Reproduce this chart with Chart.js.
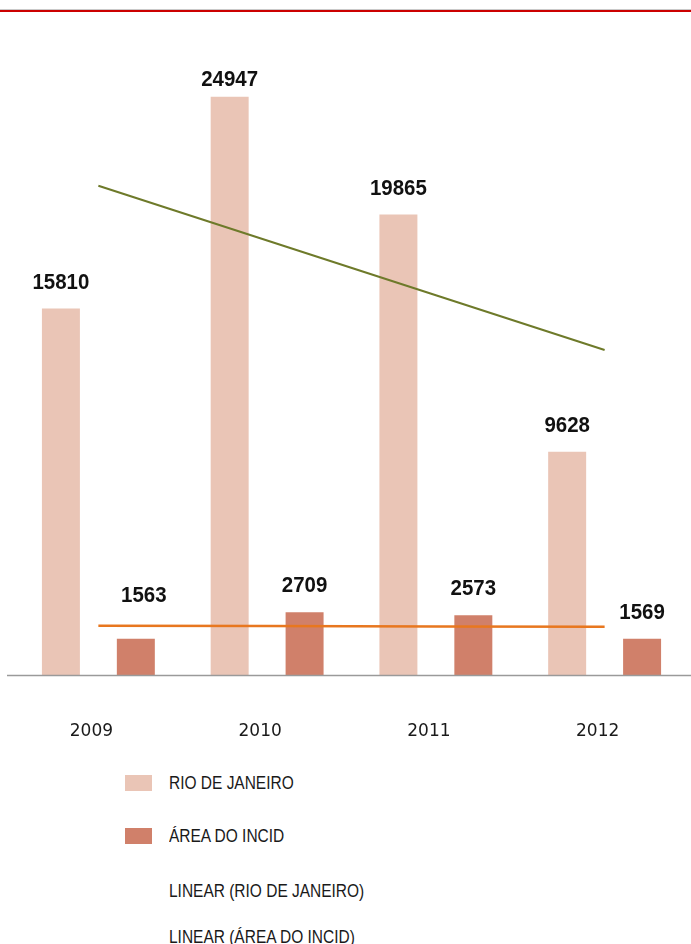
<!DOCTYPE html>
<html>
<head>
<meta charset="utf-8">
<script src="https://cdn.jsdelivr.net/npm/chart.js@4"></script>
<style>
  body { margin: 0; background: #fff; width: 691px; height: 944px; overflow: hidden; position: relative; }
  #rule { position: absolute; left: 0; top: 9px; width: 691px; height: 1px; background: #c9c9c9; }
  #rule2 { position: absolute; left: 0; top: 10px; width: 691px; height: 2px; background: #cc0000; }
  #wrap { position: absolute; left: 0; top: 0; width: 691px; height: 760px; }
  .leg { position: absolute; left: 125px; font-family: "Liberation Sans", Arial, sans-serif; font-size: 18px; color: #1a1a1a; }
  .leg i { position: absolute; left: 0; width: 27px; height: 16px; }
  .leg span { position: absolute; left: 44px; white-space: nowrap; line-height: 20px; transform: scaleX(0.86); transform-origin: 0 50%; }
</style>
</head>
<body>
<div id="rule"></div><div id="rule2"></div>
<div id="wrap"><canvas id="chart"></canvas></div>
<div id="legend"></div>
<script>
const years = ["2009", "2010", "2011", "2012"];
const rioJaneiro = [15810, 24947, 19865, 9628];
const areaIncid = [1563, 2709, 2573, 1569];
const seriesNames = ["RIO DE JANEIRO", "ÁREA DO INCID"];

const rioColor = "#eac5b6";
const areaColor = "#d0806a";
const rioTrendColor = "#6e7a2a";
const areaTrendColor = "#e8771f";

/* linear trend (least squares) like the spreadsheet's "Linear" trendline */
function linearTrend(values) {
  const n = values.length;
  let sx = 0, sy = 0, sxy = 0, sxx = 0;
  values.forEach((v, i) => {
    const x = i + 1;
    sx += x; sy += v; sxy += x * v; sxx += x * x;
  });
  const slope = (n * sxy - sx * sy) / (n * sxx - sx * sx);
  const icpt = (sy - slope * sx) / n;
  return values.map((_, i) => icpt + slope * (i + 1));
}

// value labels: drawn above each bar
const valueLabels = {
  id: "valueLabels",
  afterDatasetsDraw(chart) {
    const ctx = chart.ctx;
    ctx.save();
    ctx.font = "bold 22px 'Liberation Sans', Arial, sans-serif";
    ctx.fillStyle = "#111";
    ctx.textAlign = "center";
    ctx.textBaseline = "middle";
    chart.data.datasets.forEach((ds, di) => {
      if (ds.type === "line") return;
      chart.getDatasetMeta(di).data.forEach((bar, i) => {
        let dx = 0, dy = -26;
        // the 2009 label of the small series sits higher, clear of the trend line
        if (di === 1 && i === 0) { dx = 8; dy = -43; }
        const y = Math.max(bar.y + dy, 79.5); // kept inside the plot's top
        ctx.save();
        ctx.translate(bar.x + dx, y);
        ctx.scale(0.93, 1);
        ctx.fillText(ds.data[i], 0, 0);
        ctx.restore();
      });
    });
    ctx.restore();
  }
};

const baseline = {
  id: "baseline",
  afterDatasetsDraw(chart) {
    const ctx = chart.ctx;
    const y = chart.chartArea.bottom + 0.5;
    ctx.save();
    ctx.strokeStyle = "#9a9a9a";
    ctx.lineWidth = 1.5;
    ctx.beginPath();
    ctx.moveTo(7, y);
    ctx.lineTo(chart.width, y);
    ctx.stroke();
    ctx.restore();
  }
};

new Chart(document.getElementById("chart"), {
  type: "bar",
  data: {
    labels: years,
    datasets: [
      {
        label: seriesNames[0],
        data: rioJaneiro,
        backgroundColor: rioColor,
        categoryPercentage: 0.888,
        barPercentage: 0.507,
        order: 2
      },
      {
        label: seriesNames[1],
        data: areaIncid,
        backgroundColor: areaColor,
        categoryPercentage: 0.888,
        barPercentage: 0.507,
        order: 2
      },
      {
        type: "line",
        label: "LINEAR (RIO DE JANEIRO)",
        data: linearTrend(rioJaneiro),
        borderColor: rioTrendColor,
        borderWidth: 2,
        pointRadius: 0,
        order: 0
      },
      {
        type: "line",
        label: "LINEAR (ÁREA DO INCID)",
        data: linearTrend(areaIncid),
        borderColor: areaTrendColor,
        borderWidth: 2.5,
        pointRadius: 0,
        order: 0
      }
    ]
  },
  options: {
    responsive: true,
    maintainAspectRatio: false,
    animation: false,
    layout: { padding: { top: 26, left: 14, right: 2, bottom: 0 } },
    plugins: {
      legend: { display: false },
      tooltip: { enabled: false }
    },
    scales: {
      x: {
        grid: { display: false, drawTicks: false },
        border: { display: false },
        ticks: {
          color: "#1a1a1a",
          font: { family: "'DejaVu Sans', sans-serif", size: 17 },
          padding: 46,
          labelOffset: -7
        },
        afterFit(scale) { scale.height = 85; }
      },
      y: {
        display: false,
        min: 0,
        max: 28000
      }
    }
  },
  plugins: [valueLabels, baseline]
});

// legend (vertical list under the chart)
const legendRows = [
  { text: seriesNames[0], color: rioColor, top: 775 },
  { text: seriesNames[1], color: areaColor, top: 828 },
  { text: "LINEAR (RIO DE JANEIRO)", color: null, top: 883 },
  { text: "LINEAR (ÁREA DO INCID)", color: null, top: 929 }
];
const legendEl = document.getElementById("legend");
legendRows.forEach(r => {
  const row = document.createElement("div");
  row.className = "leg";
  row.style.top = r.top + "px";
  row.innerHTML = (r.color ? `<i style="background:${r.color}"></i>` : "") +
    `<span style="top:-2px">${r.text}</span>`;
  legendEl.appendChild(row);
});
</script>
</body>
</html>
